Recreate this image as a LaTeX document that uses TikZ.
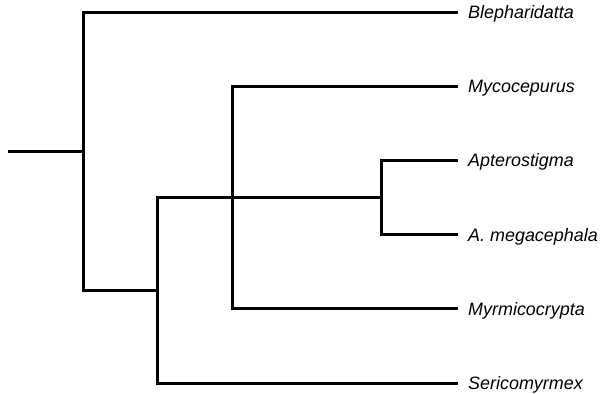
\documentclass[tikz,border=0pt]{standalone}
\usepackage{fontspec}
\setmainfont{Liberation Sans}
\usetikzlibrary{positioning}
\tikzset{
  branch/.style={line width=3bp},
  taxon/.style={inner sep=0pt, font=\fontsize{18}{20}\selectfont\itshape}
}
\begin{document}
\begin{tikzpicture}[x=1bp,y=-1bp]
    \useasboundingbox (0,0) rectangle (602,393);
    % inner nodes of the tree
    \coordinate (root) at (8,151);
    \coordinate (n1) at (83,151);
    \coordinate (n2) at (157,290);
    \coordinate (n3) at (232,197);
    \coordinate (n4) at (381,197);
    % tips of the leaves
    \coordinate (t1) at (458,12);
    \coordinate (t2) at (458,86.2);
    \coordinate (t3) at (458,160.4);
    \coordinate (t4) at (458,234.6);
    \coordinate (t5) at (458,308.8);
    \coordinate (t6) at (458,383);
    \node[taxon](bleph)[below right=6.4bp and 10bp of t1, anchor=base west]{Blepharidatta};
    \node[taxon](myco)[below right=6.4bp and 10bp of t2, anchor=base west]{Mycocepurus};
    \node[taxon](apte)[below right=6.4bp and 10bp of t3, anchor=base west]{Apterostigma};
    \node[taxon](amega)[below right=6.4bp and 10bp of t4, anchor=base west]{A. megacephala};
    \node[taxon](myrm)[below right=6.4bp and 10bp of t5, anchor=base west]{Myrmicocrypta};
    \node[taxon](seri)[below right=6.4bp and 10bp of t6, anchor=base west]{Sericomyrmex};
    \draw[branch] (root) -- (n1);
    \draw[branch] (n1) |- (t1);
    \draw[branch] (n1) |- (n2);
    \draw[branch] (n2) |- (n3) -- (n4);
    \draw[branch] (n2) |- (t6);
    \draw[branch] (n3) |- (t2);
    \draw[branch] (n3) |- (t5);
    \draw[branch] (n4) |- (t3);
    \draw[branch] (n4) |- (t4);
\end{tikzpicture}
\end{document}
